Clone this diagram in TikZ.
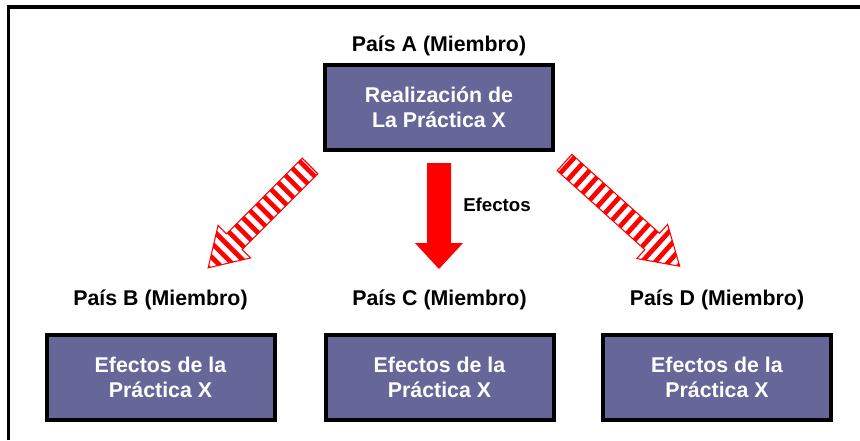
\documentclass[tikz,border=0pt]{standalone}
\usepackage{fontspec}
\setmainfont{Liberation Sans}
\usepackage{xcolor}
\usetikzlibrary{calc, positioning}
\definecolor{boxblue}{RGB}{102,102,153}
\tikzset{
    practice/.style={rectangle, draw=black, line width=3pt, fill=boxblue, text=white, align=center, minimum width=171pt, minimum height=63.75pt, font=\fontsize{16}{18.75}\selectfont\bfseries},
    country/.style={font=\fontsize{16}{19}\selectfont\bfseries, inner sep=0pt},
    effectlabel/.style={font=\fontsize{14}{16}\selectfont\bfseries, anchor=west, inner sep=0pt},
    frame/.style={draw=black, line width=2.4pt},
    solidarrow/.style={fill=red, draw=none},
    stripe/.style={red, line width=3.5pt},
    stripedge/.style={draw=red, line width=0.8pt, line join=miter},
    pics/hatcharrow/.style={code={
        \begin{scope}
            \clip (0,-11) -- (#1-37,-11) -- (#1-37,-23) -- (#1,0) -- (#1-37,23) -- (#1-37,11) -- (0,11) -- cycle;
            \foreach \s in {4,14,...,165} \draw[stripe] (\s,-30) -- (\s,30);
        \end{scope}
        \draw[stripedge] (0,-11) -- (#1-37,-11) -- (#1-37,-23) -- (#1,0) -- (#1-37,23) -- (#1-37,11) -- (0,11) -- cycle;
    }}
}

\begin{document}
\begin{tikzpicture}[x=0.75pt, y=-0.75pt]
    \useasboundingbox (0,0) rectangle (860,440);
    % Frame
    \draw[frame] (8.5,440) -- (8.5,7) -- (860,7);

    % Country A
    \node[practice] (PracA) at (439,107.5) {Realización de\\La Práctica X};
    \node[country, above=5pt of PracA] (PaisA) {País A (Miembro)};

    % Countries B, C, D
    \node[practice] (EfB) at (160.5,377.5) {Efectos de la\\Práctica X};
    \node[practice] (EfC) at (439.5,377.5) {Efectos de la\\Práctica X};
    \node[practice] (EfD) at (717,377.5) {Efectos de la\\Práctica X};
    \node[country, above=17pt of EfB] (PaisB) {País B (Miembro)};
    \node[country, above=17pt of EfC] (PaisC) {País C (Miembro)};
    \node[country, above=17pt of EfD] (PaisD) {País D (Miembro)};

    % Arrow tails
    \coordinate (tailB) at ($(PracA.south west)+(-13,14)$);
    \coordinate (tailC) at ($(PracA.south)+(0,11)$);
    \coordinate (tailD) at ($(PracA.south east)+(9.5,10.5)$);

    % Effects
    \pic[rotate=225] at (tailB) {hatcharrow=144};
    \pic[rotate=-42] at (tailD) {hatcharrow=155};
    \begin{scope}[shift={(tailC)}, rotate=-90]
        \fill[solidarrow] (0,-12) -- (80,-12) -- (80,-24) -- (106,0) -- (80,24) -- (80,12) -- (0,12) -- cycle;
    \end{scope}
    \node[effectlabel] (EfLbl) at ($(tailC)+(24,42)$) {Efectos};

\end{tikzpicture}
\end{document}
